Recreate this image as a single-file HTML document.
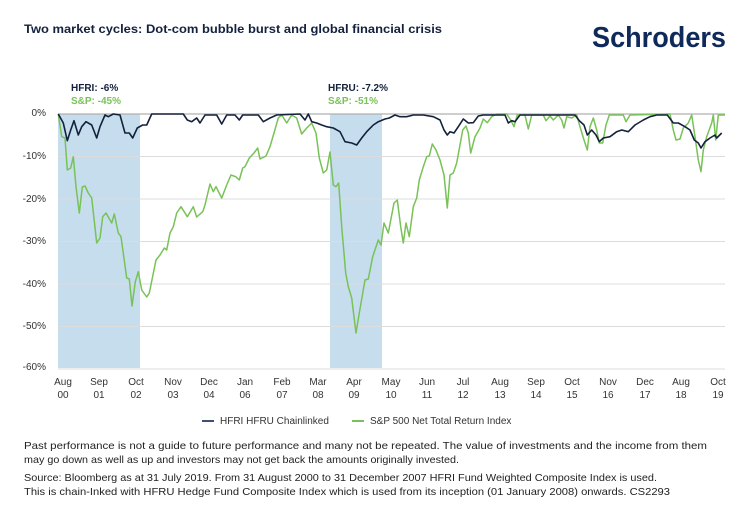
<!DOCTYPE html>
<html><head><meta charset="utf-8"><style>
html,body{margin:0;padding:0;background:#fff}
svg{display:block}
text{font-family:"Liberation Sans",sans-serif}
</style></head><body>
<svg width="750" height="520" viewBox="0 0 750 520" xmlns="http://www.w3.org/2000/svg">
<text x="24" y="33" font-size="12" font-weight="bold" fill="#14213d" textLength="418" lengthAdjust="spacingAndGlyphs">Two market cycles: Dot-com bubble burst and global financial crisis</text>
<text x="592" y="47" font-size="29" font-weight="bold" fill="#0f2a5a" textLength="134" lengthAdjust="spacingAndGlyphs">Schroders</text>

<rect x="58" y="114" width="82" height="254" fill="#c6ddee"/>
<rect x="330" y="114" width="52" height="254" fill="#c6ddee"/>
<g stroke="#dcdcdc" stroke-width="1">
<line x1="58" y1="156.5" x2="725" y2="156.5"/>
<line x1="58" y1="199" x2="725" y2="199"/>
<line x1="58" y1="241.5" x2="725" y2="241.5"/>
<line x1="58" y1="284" x2="725" y2="284"/>
<line x1="58" y1="326.5" x2="725" y2="326.5"/>
<line x1="58" y1="369" x2="725" y2="369"/>
</g>
<line x1="58" y1="114" x2="725" y2="114" stroke="#b0b0b0" stroke-width="1.2"/>

<g font-size="10" fill="#333" text-anchor="end">
<text x="46" y="116">0%</text><text x="46" y="159">-10%</text><text x="46" y="202">-20%</text>
<text x="46" y="244">-30%</text><text x="46" y="287">-40%</text><text x="46" y="329">-50%</text><text x="46" y="370">-60%</text>
</g>

<g font-size="10" font-weight="bold">
<text x="71" y="91" fill="#14213d">HFRI: -6%</text>
<text x="71" y="104" fill="#78c257">S&amp;P: -45%</text>
<text x="328" y="91" fill="#14213d">HFRU: -7.2%</text>
<text x="328" y="104" fill="#78c257">S&amp;P: -51%</text>
</g>

<polyline fill="none" stroke="#78c257" stroke-width="1.5" stroke-linejoin="round" points="58.3,114 61.7,136.7 65,138 67.3,170 70.7,168 73.3,156.7 76,186.7 79.3,213 82.3,187 85,186 88.3,193 91.7,198 96.7,243 100,238 102.7,216.7 106,213 111.7,223 114.3,214 118.3,233 121,236.7 126.7,278 129.3,279 132,306 135.3,281.7 138.3,271.7 141.7,290 146.7,297 149.3,293 156,260 160,255 164.3,248 166.7,250 170,233 173.3,226.7 176.7,213 181,206.7 187.3,216.7 193.3,206.7 196.7,217 202.7,211.7 205,205 210,184 213.3,191.7 216,186.7 221.7,198 226.7,185 231,175 235.7,176.7 239.3,180 242.7,168 245,166.7 249.3,158 254,153 257.7,148 260,159 266,156 270,146.7 274,133 278.3,118 281.7,115 286.7,123 291.7,115 296.7,118 301.7,134 306.7,128 311.7,123 316,133 319.3,158 323.3,173 326.7,170 330,152 333.3,185 336,186.7 338.7,183 341.7,226.7 345.7,273 348.3,286.7 351.7,298 356,333 359.3,313 365,280 368.3,279 372.7,256.7 378.3,240 381,245 384,223 388.3,233 394,203 397.3,200 400.7,226.7 403.3,243 406,223 409.3,236.7 413.3,206.7 416.7,198 419.3,180 423.3,166.7 426.7,156.7 429.3,156 432.3,144 436,150 440,160 444,175 447.3,208 450,175 453.3,173 456.7,163 462.7,130 466,126 468.3,133 470.7,153 475,136.7 480,128 483.3,119 487.3,122.7 491.7,116.7 496.7,114 506.7,114 510.7,120 514,126.7 517.3,115 525,115 528.3,129 531.7,115 543.3,115 546,120.7 550,116 553.3,120 558.3,115 561.7,120 564,128 566.7,116.7 571.7,118 576.7,115 580,126.7 584,140 587.3,150 590,126.7 593.3,118 596.7,130 599.3,143 602.7,143 606,125 609.3,115 623.3,115 626,121.7 630,115 670,114 673.3,130 676,140 680,139 683.3,128 688.3,123 691.7,115 695,136.7 698.3,160 701,171.7 703.3,150 706.7,136.7 711.7,123 713.3,115 715.7,140 718.3,115 725,115"/>

<polyline fill="none" stroke="#14213d" stroke-width="1.6" stroke-linejoin="round" points="58.3,114 63.3,123 67.3,140.7 70.7,130 74,120.7 78.3,135 81.7,126.7 86,121.7 91.7,125 96.7,138 100,126.7 105,115 108.3,116.7 113.3,114 120,115 125,133 129.3,133 132.7,138 137.3,128 142.7,125 146.7,125 151.7,114 183.3,114 187.3,120 191.7,121.7 196.7,118 200,123 205,115 216.7,115 221.7,124 226.7,115 235,115 239.3,120 242.7,115 258.3,115 263.3,121.7 270,118 276.7,115 300,114 305,120 308.3,114 311.7,121.7 316.7,123 321.7,125 326.7,126.7 333.3,128 340,131.7 345,141.7 351.7,143 356.7,145 361.7,138 366.7,131.7 373.3,125 378.3,121.7 385,119 389.3,118 395,115 400,116.7 406.7,116.7 413.3,115 423.3,115 433.3,116.7 440,120 444,130 447.3,135 450,131.7 454,133 458.3,126.7 463.3,119 468.3,123 473.3,122.7 478.3,116 483.3,115 505,115 508.3,123 511.7,120.7 515,121.7 520,115 575,115 579.3,120.7 584,125 587.3,135 591.7,130 596,135 599.3,141.7 603.3,138 610,136.7 616.7,131.7 621.7,130 628.3,131.7 635,125 643.3,120 650,116.7 656.7,115 667.3,115 673.3,123 678.3,123 685,126.7 690,130 694.3,140 698.3,143 701,148 705,141.7 710,138 715,135 716.7,138 721.7,133"/>

<g font-size="10" fill="#333" text-anchor="middle">
<text x="63" y="385">Aug</text><text x="63" y="398">00</text>
<text x="99" y="385">Sep</text><text x="99" y="398">01</text>
<text x="136" y="385">Oct</text><text x="136" y="398">02</text>
<text x="173" y="385">Nov</text><text x="173" y="398">03</text>
<text x="209" y="385">Dec</text><text x="209" y="398">04</text>
<text x="245" y="385">Jan</text><text x="245" y="398">06</text>
<text x="282" y="385">Feb</text><text x="282" y="398">07</text>
<text x="318" y="385">Mar</text><text x="318" y="398">08</text>
<text x="354" y="385">Apr</text><text x="354" y="398">09</text>
<text x="391" y="385">May</text><text x="391" y="398">10</text>
<text x="427" y="385">Jun</text><text x="427" y="398">11</text>
<text x="463" y="385">Jul</text><text x="463" y="398">12</text>
<text x="500" y="385">Aug</text><text x="500" y="398">13</text>
<text x="536" y="385">Sep</text><text x="536" y="398">14</text>
<text x="572" y="385">Oct</text><text x="572" y="398">15</text>
<text x="608" y="385">Nov</text><text x="608" y="398">16</text>
<text x="645" y="385">Dec</text><text x="645" y="398">17</text>
<text x="681" y="385">Aug</text><text x="681" y="398">18</text>
<text x="718" y="385">Oct</text><text x="718" y="398">19</text>
</g>

<line x1="202" y1="421" x2="214" y2="421" stroke="#3d5070" stroke-width="2"/>
<text x="220" y="424" font-size="10" fill="#333">HFRI HFRU Chainlinked</text>
<line x1="352" y1="421" x2="364" y2="421" stroke="#78c257" stroke-width="2"/>
<text x="370" y="424" font-size="10" fill="#333">S&amp;P 500 Net Total Return Index</text>

<g font-size="10.5" fill="#222">
<text x="24" y="449" textLength="683" lengthAdjust="spacingAndGlyphs">Past performance is not a guide to future performance and many not be repeated. The value of investments and the income from them</text>
<text x="24" y="463" textLength="435" lengthAdjust="spacingAndGlyphs">may go down as well as up and investors may not get back the amounts originally invested.</text>
<text x="24" y="481" textLength="633" lengthAdjust="spacingAndGlyphs">Source: Bloomberg as at 31 July 2019. From 31 August 2000 to 31 December 2007 HFRI Fund Weighted Composite Index is used.</text>
<text x="24" y="495" textLength="646" lengthAdjust="spacingAndGlyphs">This is chain-Inked with HFRU Hedge Fund Composite Index which is used from its inception (01 January 2008) onwards. CS2293</text>
</g>
</svg>
</body></html>
